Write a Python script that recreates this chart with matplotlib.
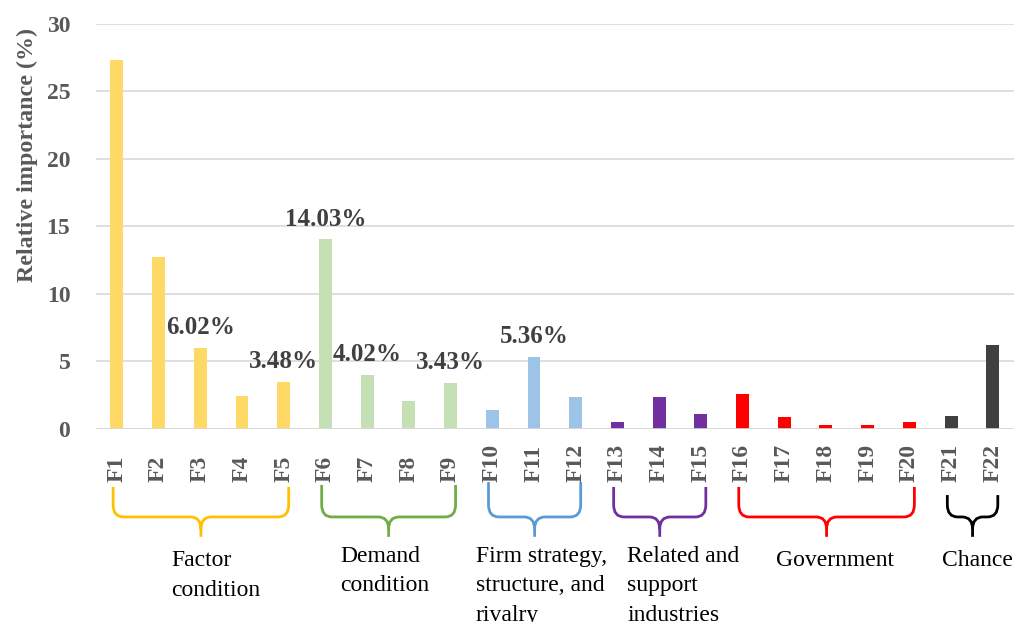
#!/usr/bin/env python3

import matplotlib
matplotlib.use('Agg')
import matplotlib.pyplot as plt
from matplotlib.path import Path
from matplotlib.patches import PathPatch

plt.rcParams['font.family'] = ['Liberation Serif', 'DejaVu Serif']

FACTORS = ['F%d' % i for i in range(1, 23)]
IMPORTANCE = [27.3, 12.73, 6.02, 2.44, 3.48,
              14.03, 4.02, 2.07, 3.43,
              1.41, 5.36, 2.37,
              0.52, 2.37, 1.11,
              2.59, 0.89, 0.30, 0.30, 0.52,
              0.96, 6.22]
LABELLED = {'F3': '6.02%', 'F5': '3.48%', 'F6': '14.03%',
            'F7': '4.02%', 'F9': '3.43%', 'F11': '5.36%'}

GROUPS = ['Factor\ncondition', 'Demand\ncondition',
          'Firm strategy,\nstructure, and\nrivalry',
          'Related and\nsupport\nindustries', 'Government', 'Chance']
GROUP_SIZES = [5, 4, 3, 3, 5, 2]
BAR_COLORS = ['#FFD966', '#C5E0B4', '#9DC3E6', '#7030A0', '#FF0000', '#404040']
BRACE_COLORS = ['#FFC000', '#70AD47', '#5B9BD5', '#7030A0', '#FF0000', '#000000']

# layout of the group labels (left edge in bar units, top in axes fraction)
LABEL_X = [1.31, 5.35, 8.6, 12.24, 15.8, 19.78]
LABEL_Y = [-0.299, -0.289, -0.289, -0.289, -0.299, -0.299]
BRACE_TOP = [-0.143, -0.138, -0.131, -0.143, -0.143, -0.163]

GRAY = '#595959'


def brace(ax, x0, x1, ytop, color):
    '''Curly brace under the bars from x0 to x1 (data x, axes-fraction y).'''
    yline, ytip = -0.217, -0.266
    xm = (x0 + x1) / 2
    rx, ry = 0.25, 0.03
    verts = [(x0, ytop), (x0, yline + ry), (x0, yline), (x0 + rx, yline),
             (xm - rx, yline), (xm, yline), (xm, yline - ry), (xm, ytip),
             (x1, ytop), (x1, yline + ry), (x1, yline), (x1 - rx, yline),
             (xm + rx, yline), (xm, yline), (xm, yline - ry)]
    codes = [Path.MOVETO, Path.LINETO, Path.CURVE3, Path.CURVE3,
             Path.LINETO, Path.CURVE3, Path.CURVE3, Path.LINETO,
             Path.MOVETO, Path.LINETO, Path.CURVE3, Path.CURVE3,
             Path.LINETO, Path.CURVE3, Path.CURVE3]
    patch = PathPatch(Path(verts, codes), facecolor='none', edgecolor=color,
                      lw=2, transform=ax.get_xaxis_transform(), clip_on=False)
    ax.add_patch(patch)


fig = plt.figure(figsize=(10.27, 6.22), dpi=100)
ax = fig.add_axes([0.0935, 0.3103, 0.8935, 0.6517])

colors = []
for size, color in zip(GROUP_SIZES, BAR_COLORS):
    colors += [color] * size

x = list(range(len(FACTORS)))
ax.bar(x, IMPORTANCE, width=0.31, color=colors, zorder=3)

for i, name in enumerate(FACTORS):
    if name in LABELLED:
        ax.annotate(LABELLED[name], (i, IMPORTANCE[i]), xytext=(0, 10),
                    textcoords='offset points', ha='center', va='baseline',
                    fontsize=18, fontweight='bold', color='#404040')
    ax.text(i, -0.131, name, transform=ax.get_xaxis_transform(),
            rotation=90, ha='center', va='bottom', fontsize=17,
            fontweight='bold', color=GRAY)

start = 0
for g, size in enumerate(GROUP_SIZES):
    end = start + size - 1
    brace(ax, start - 0.09, end + 0.12, BRACE_TOP[g], BRACE_COLORS[g])
    ax.text(LABEL_X[g], LABEL_Y[g], GROUPS[g], transform=ax.get_xaxis_transform(),
            ha='left', va='top', fontsize=17, linespacing=1.52, color='black')
    start += size

ax.set_xlim(-0.5, 21.5)
ax.set_ylim(0, 30)
ax.set_yticks(range(0, 31, 5))
ax.set_xticks([])
ax.grid(axis='y', color='#D9D9D9', lw=1.2, zorder=0)
ax.axhline(0, color='#D9D9D9', lw=1.2, zorder=4)
for spine in ax.spines.values():
    spine.set_visible(False)
ax.tick_params(axis='y', length=0, pad=18.5, labelsize=17, labelcolor=GRAY)
for label in ax.get_yticklabels():
    label.set_fontweight('bold')

ax.set_ylabel('Relative importance (%)', fontsize=17.3, fontweight='bold', color=GRAY)
ax.yaxis.set_label_coords(-0.063, 0.675)

fig.savefig('out.png', dpi=100)
